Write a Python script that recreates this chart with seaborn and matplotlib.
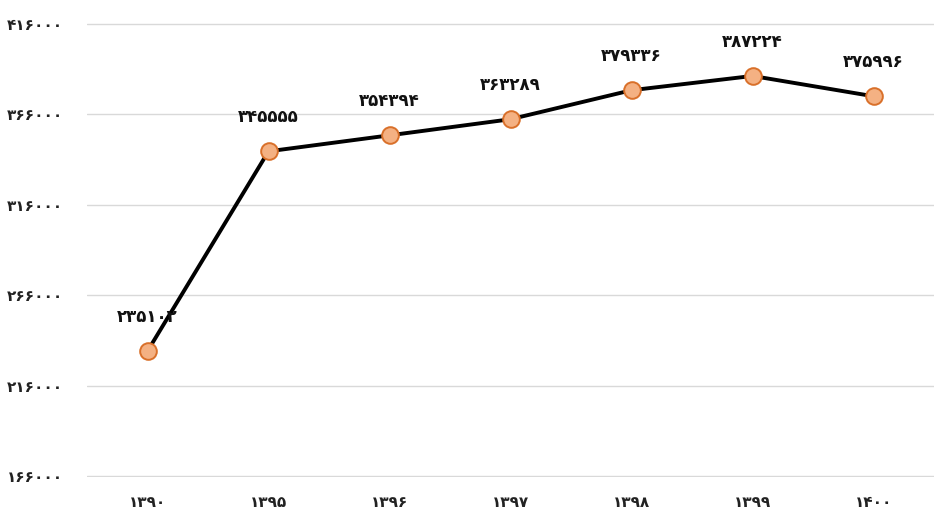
import matplotlib
matplotlib.use("Agg")
import matplotlib.pyplot as plt
import seaborn as sns
import pandas as pd

# data
years = ["1390", "1395", "1396", "1397", "1398", "1399", "1400"]
values = [235102, 345555, 354394, 363289, 379336, 387224, 375996]
y_ticks = [166000, 216000, 266000, 316000, 366000, 416000]

FA_DIGITS = str.maketrans("0123456789", "۰۱۲۳۴۵۶۷۸۹")


def fa(s):
    """convert latin digits to persian digits"""
    return str(s).translate(FA_DIGITS)


sns.set_theme(style="white")
plt.rcParams['font.family'] = ['DejaVu Sans']

df = pd.DataFrame({"year": [fa(y) for y in years], "value": values})

fig = plt.figure(figsize=(9.34, 5.13), dpi=100)
ax = fig.add_axes([87 / 934, 36 / 513, 1 - 87 / 934, 454 / 513])

sns.lineplot(data=df, x="year", y="value", ax=ax, sort=False,
             color="black", linewidth=2.8, marker="o", markersize=12,
             markerfacecolor="#F4B183", markeredgecolor="#D9702A",
             markeredgewidth=1.4, zorder=3)

for i, v in enumerate(values):
    ax.annotate(fa(v), (i, v), xytext=(0, 18), textcoords="offset points",
                ha="center", va="bottom", fontsize=12, fontweight="bold",
                color="#111111")

ax.set_xlim(-0.5, len(years) - 0.5)
ax.set_ylim(165500, 416500)
ax.set_yticks(y_ticks)
ax.set_yticklabels([fa(t) for t in y_ticks])
ax.grid(axis="y", color="#d9d9d9", linewidth=1)
ax.set_axisbelow(True)
for s in ax.spines.values():
    s.set_visible(False)
ax.tick_params(axis="both", length=0, labelsize=11, colors="#222222")
ax.tick_params(axis="y", pad=17)
ax.tick_params(axis="x", pad=13)
for lbl in ax.get_xticklabels() + ax.get_yticklabels():
    lbl.set_fontweight("bold")
ax.set_xlabel("")
ax.set_ylabel("")

fig.savefig("out.png", dpi=100)
